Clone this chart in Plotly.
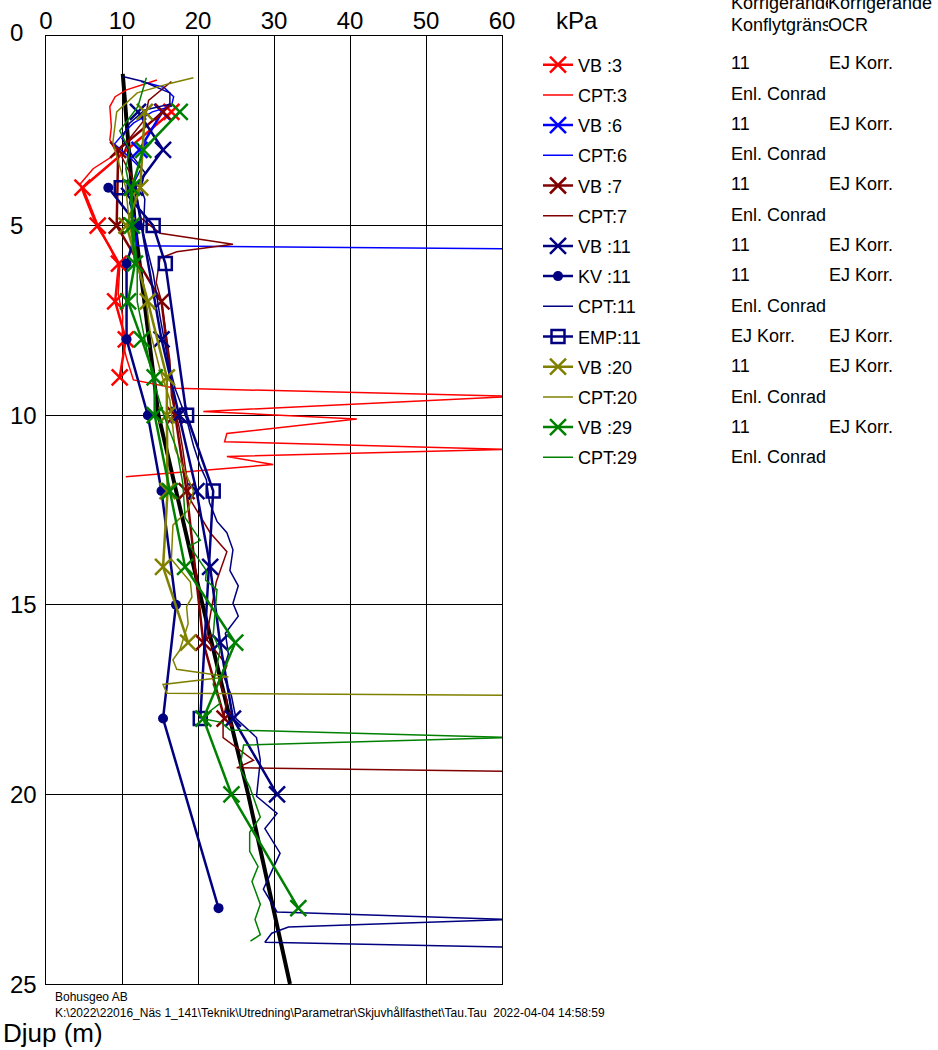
import plotly.graph_objects as go

# ---------------- data (depth in m, shear strength tau in kPa) ----------------
ref_depth = [1, 5, 10, 15, 20, 25]
ref_tau = [10.1, 11.7, 14.8, 20.6, 26.6, 32.1]

vb3_depth = [2, 4, 5, 6, 7, 8, 9]
vb3_tau = [16.5, 4.8, 6.8, 9.6, 9.1, 10.5, 9.7]

cpt3_depth = [1.16, 1.42, 1.6, 1.86, 2.4, 2.74, 3.1, 3.5, 3.9, 4.15, 4.7, 5.03, 5.55, 5.9,
              6.1, 6.8, 7.4, 8.0, 8.5, 9.07, 9.29, 9.5, 9.9, 10.1, 10.48, 10.7, 10.9, 11.09,
              11.3, 11.62]
cpt3_tau = [14.6, 10.6, 9.1, 8.4, 8.6, 8.4, 9.3, 6.2, 4.5, 4.9, 6.0, 6.7, 8.4, 9.1,
            9.7, 9.5, 10.1, 10.0, 10.6, 11.5, 17.0, 62.0, 20.7, 40.9, 23.8, 23.5, 61.0, 23.8,
            29.9, 10.5]

vb6_depth = [2, 3]
vb6_tau = [15.3, 12.3]

cpt6_depth = [1.2, 1.35, 1.6, 1.85, 2.0, 2.3, 2.5, 2.85, 3.2, 3.5, 3.9, 4.4, 5.0, 5.53, 5.66]
cpt6_tau = [12.5, 15.5, 16.8, 16.5, 14.0, 11.5, 10.5, 9.0, 11.0, 12.5, 11.5, 11.0, 12.0, 11.9, 90.0]

vb7_depth = [2, 3, 5, 7, 10, 12, 16, 18]
vb7_tau = [15.4, 9.5, 9.3, 15.2, 17.0, 18.5, 20.7, 23.5]

cpt7_depth = [1.2, 1.7, 2.2, 2.7, 3.2, 3.8, 4.3, 4.8, 5.2, 5.49, 5.69, 5.86, 6.5, 7.0, 8.55,
              9.5, 10.3, 10.9, 12.2, 13.1, 13.6, 14.4, 15.3, 15.9, 16.6, 17.1, 17.5, 18.1,
              18.5, 19.1, 19.3, 19.45]
cpt7_tau = [16.5, 13.5, 13.0, 11.0, 10.0, 11.5, 12.0, 12.5, 15.0, 24.6, 17.2, 15.0, 14.5, 15.2, 16.3,
            16.5, 17.5, 18.0, 18.9, 21.6, 23.8, 22.4, 21.6, 21.1, 23.8, 22.9, 23.8, 23.3,
            23.3, 27.3, 25.1, 85.0]

vb11_depth = [2, 3, 4, 8, 10, 12, 14, 16, 18, 20]
vb11_tau = [12.1, 15.4, 11.7, 15.2, 17.5, 19.8, 21.6, 22.9, 24.6, 30.4]

kv11_depth = [4, 5, 6, 8, 10, 12, 15, 18, 23]
kv11_tau = [8.2, 12.1, 10.6, 10.6, 13.4, 15.2, 17.1, 15.4, 22.7]

cpt11_depth = [1.07, 1.2, 1.5, 1.8, 1.95, 2.3, 2.7, 3.2, 3.6, 4.0, 4.3, 5.2, 6.25, 7.4, 8.5, 9.3,
               10.1, 10.8, 11.35, 11.7, 12.3, 12.8, 13.1, 13.55, 14.1, 14.5, 14.96, 15.3, 15.75,
               16.3, 16.8, 17.4, 18.0, 18.5, 19.1, 20.05, 20.5, 20.9, 21.55, 22.5, 23.1, 23.3,
               23.5, 23.66, 23.9, 24.15]
cpt11_tau = [10.1, 12.8, 16.3, 16.3, 13.0, 11.0, 10.0, 11.5, 13.0, 12.5, 13.0, 12.8, 14.1, 15.0, 16.0, 17.0,
             18.5, 19.4, 20.3, 21.1, 21.5, 22.5, 23.8, 24.6, 24.2, 25.3, 24.6, 25.3, 23.6,
             24.0, 23.2, 24.4, 25.0, 27.7, 28.2, 27.7, 30.4, 28.8, 30.8, 28.6, 30.4, 61.0,
             31.9, 29.7, 28.8, 90.0]

emp11_depth = [4, 5, 6, 10, 12, 18]
emp11_tau = [9.9, 14.1, 15.7, 18.5, 22.0, 20.3]

vb20_depth = [2, 4, 5, 7, 9, 10, 12, 14, 16]
vb20_tau = [13.0, 12.4, 10.6, 13.4, 15.9, 15.9, 16.0, 15.4, 18.7]

cpt20_depth = [1.1, 1.25, 1.5, 2.0, 2.8, 3.3, 4.0, 5.0, 6.0, 6.7, 7.8, 8.8, 9.6, 10.9, 12.0,
               12.5, 12.9, 13.8, 14.4, 14.8, 15.05, 15.5, 16.2, 16.45, 16.7, 16.9, 17.1,
               17.33, 17.42]
cpt20_tau = [19.4, 16.3, 12.0, 9.3, 8.8, 9.5, 10.5, 11.0, 12.0, 13.0, 13.7, 15.0, 16.3, 17.0, 19.4,
             18.7, 16.7, 16.5, 19.0, 19.2, 18.5, 18.7, 17.6, 16.7, 17.2, 24.0, 15.4,
             15.9, 90.0]

vb29_depth = [2, 3, 4, 5, 6, 7, 8, 9, 10, 12, 14, 16, 18, 20, 23]
vb29_tau = [17.6, 12.8, 11.3, 11.3, 11.7, 10.8, 12.6, 14.3, 14.3, 16.3, 18.3, 24.9, 20.7, 24.4, 33.2]

cpt29_depth = [1.1, 1.86, 2.5, 3.0, 3.5, 4.0, 5.0, 6.0, 7.0, 8.0, 9.0, 10.0, 10.9, 11.8, 12.7,
               13.3, 13.45, 14.1, 14.35, 14.6, 15.8, 16.2, 17.1, 17.6, 17.8, 18.0, 18.1, 18.3,
               18.5, 18.7, 19.1, 19.3, 19.8, 20.6, 21.0, 21.5, 21.9, 22.3, 22.9, 23.3, 23.7,
               23.87]
cpt29_tau = [13.2, 12.1, 9.7, 11.0, 10.5, 11.0, 11.5, 12.0, 12.0, 13.0, 14.0, 15.5, 17.2, 18.0, 18.3,
             20.3, 18.9, 21.1, 21.0, 22.5, 22.0, 22.9, 22.0, 22.9, 21.6, 20.5, 23.1, 24.2,
             61.0, 26.0, 25.7, 25.5, 26.8, 28.2, 26.8, 26.8, 27.9, 27.1, 28.2, 27.5, 28.2,
             26.9]

x_ticks = [0, 10, 20, 30, 40, 50, 60]
y_ticks = [0, 5, 10, 15, 20, 25]

legend_col2 = ["11", "Enl. Conrad", "11", "Enl. Conrad", "11", "Enl. Conrad", "11", "11",
               "Enl. Conrad", "EJ Korr.", "11", "Enl. Conrad", "11", "Enl. Conrad"]
legend_col3 = ["EJ Korr.", "", "EJ Korr.", "", "EJ Korr.", "", "EJ Korr.", "EJ Korr.",
               "", "EJ Korr.", "EJ Korr.", "", "EJ Korr.", ""]

# ---------------- layout helpers ----------------
W, H = 938, 1050
PL, PR, PT, PB = 46, 502, 36, 984
FONT = "Arial, Liberation Sans, sans-serif"


def pxx(x):
    return (x - PL) / (PR - PL)


def pyy(y):
    return (PB - y) / (PB - PT)


RED, BLUE, DRED, NAVY, OLIVE, GREEN = "#FF0000", "#0000FF", "#800000", "#000080", "#808000", "#008000"

fig = go.Figure()

fig.add_trace(go.Scatter(x=ref_tau, y=ref_depth, mode="lines",
                         line=dict(color="black", width=4), showlegend=False))


def vb(name, xs, ys, color):
    fig.add_trace(go.Scatter(x=xs, y=ys, name=name, legendgroup=name, mode="lines+markers",
                             line=dict(color=color, width=2.5),
                             marker=dict(symbol="x-thin", size=16, color=color,
                                         line=dict(color=color, width=2.5))))


def cpt(name, xs, ys, color):
    fig.add_trace(go.Scatter(x=xs, y=ys, name=name, legendgroup=name, mode="lines",
                             line=dict(color=color, width=1.5)))


vb("VB :3", vb3_tau, vb3_depth, RED)
cpt("CPT:3", cpt3_tau, cpt3_depth, RED)
vb("VB :6", vb6_tau, vb6_depth, BLUE)
cpt("CPT:6", cpt6_tau, cpt6_depth, BLUE)
vb("VB :7", vb7_tau, vb7_depth, DRED)
cpt("CPT:7", cpt7_tau, cpt7_depth, DRED)
vb("VB :11", vb11_tau, vb11_depth, NAVY)
fig.add_trace(go.Scatter(x=kv11_tau, y=kv11_depth, name="KV :11", legendgroup="KV :11",
                         mode="lines+markers", line=dict(color=NAVY, width=2.5),
                         marker=dict(symbol="circle", size=10, color=NAVY)))
cpt("CPT:11", cpt11_tau, cpt11_depth, NAVY)
fig.add_trace(go.Scatter(x=emp11_tau, y=emp11_depth, name="EMP:11", legendgroup="EMP:11",
                         mode="lines+markers", line=dict(color=NAVY, width=2.5),
                         marker=dict(symbol="square-open", size=13, color=NAVY,
                                     line=dict(color=NAVY, width=2.5))))
vb("VB :20", vb20_tau, vb20_depth, OLIVE)
cpt("CPT:20", cpt20_tau, cpt20_depth, OLIVE)
vb("VB :29", vb29_tau, vb29_depth, GREEN)
cpt("CPT:29", cpt29_tau, cpt29_depth, GREEN)

ann = []
ROW0, ROWH = 63.3, 30.3
for i, (c2, c3) in enumerate(zip(legend_col2, legend_col3)):
    yy = pyy(ROW0 + ROWH * i)
    ann.append(dict(x=pxx(729), y=yy, text=c2, xanchor="left", yanchor="middle"))
    if c3:
        ann.append(dict(x=pxx(827), y=yy, text=c3, xanchor="left", yanchor="middle"))

ann.append(dict(x=pxx(729), y=pyy(3), text="Korrigerande", xanchor="left", yanchor="middle"))
ann.append(dict(x=pxx(828), y=pyy(3), text="Korrigerande", xanchor="left", yanchor="middle",
                bgcolor="white", borderpad=0, borderwidth=0))
ann.append(dict(x=pxx(729), y=pyy(25), text="Konflytgräns", xanchor="left", yanchor="middle"))
ann.append(dict(x=pxx(828), y=pyy(25), text="OCR", xanchor="left", yanchor="middle",
                bgcolor="white", borderpad=0, borderwidth=0))
for a in ann:
    a.update(font=dict(size=18, color="black", family=FONT), xref="paper", yref="paper")

# depth labels on the left, left-aligned as in the reference, placed on the y scale
for v in y_ticks:
    ann.append(dict(x=pxx(8), xref="paper", y=v, yref="y", text=str(v), xanchor="left",
                    yanchor="middle", yshift=4 if v == 0 else 0,
                    font=dict(size=24, color="black", family=FONT)))

ann += [
    dict(x=pxx(554), y=pyy(21), text="kPa", xanchor="left", yanchor="middle",
         font=dict(size=24, color="black", family=FONT), xref="paper", yref="paper"),
    dict(x=pxx(53), y=pyy(997), text="Bohusgeo AB", xanchor="left", yanchor="middle",
         font=dict(size=12, color="black", family=FONT), xref="paper", yref="paper"),
    dict(x=pxx(53), y=pyy(1013),
         text="K:\\2022\\22016_Näs 1_141\\Teknik\\Utredning\\Parametrar\\Skjuvhållfasthet\\Tau.Tau  2022-04-04 14:58:59",
         xanchor="left", yanchor="middle", font=dict(size=12, color="black", family=FONT),
         xref="paper", yref="paper"),
    dict(x=pxx(1), y=pyy(1033), text="Djup (m)", xanchor="left", yanchor="middle",
         font=dict(size=26, color="black", family=FONT), xref="paper", yref="paper"),
]
for a in ann:
    a.update(showarrow=False)

fig.update_layout(
    width=W, height=H,
    margin=dict(l=PL, r=W - PR, t=PT, b=H - PB, pad=0, autoexpand=False),
    paper_bgcolor="white", plot_bgcolor="white",
    font=dict(family=FONT, color="black"),
    xaxis=dict(range=[0, 60], side="top", tickvals=x_ticks, ticks="", ticklen=0,
               tickfont=dict(size=24, color="black"), showgrid=True, gridcolor="black",
               gridwidth=1, zeroline=False, showline=True, linecolor="black", linewidth=1,
               mirror=True, ticklabelstandoff=-4, automargin=False),
    yaxis=dict(range=[25, 0], tickvals=y_ticks, ticks="", ticklen=0, showticklabels=False,
               showgrid=True, gridcolor="black",
               gridwidth=1, zeroline=False, showline=True, linecolor="black", linewidth=1,
               mirror=True, automargin=False),
    legend=dict(x=pxx(538), y=pyy(46.5),
                xanchor="left", yanchor="top",
                font=dict(size=18, color="black", family=FONT), bgcolor="rgba(0,0,0,0)",
                borderwidth=0, traceorder="grouped", tracegroupgap=3.8),
    annotations=ann,
    showlegend=True,
)

fig.write_html("out.html", config={"displayModeBar": False},
               post_script="document.body.style.margin='0px';")
